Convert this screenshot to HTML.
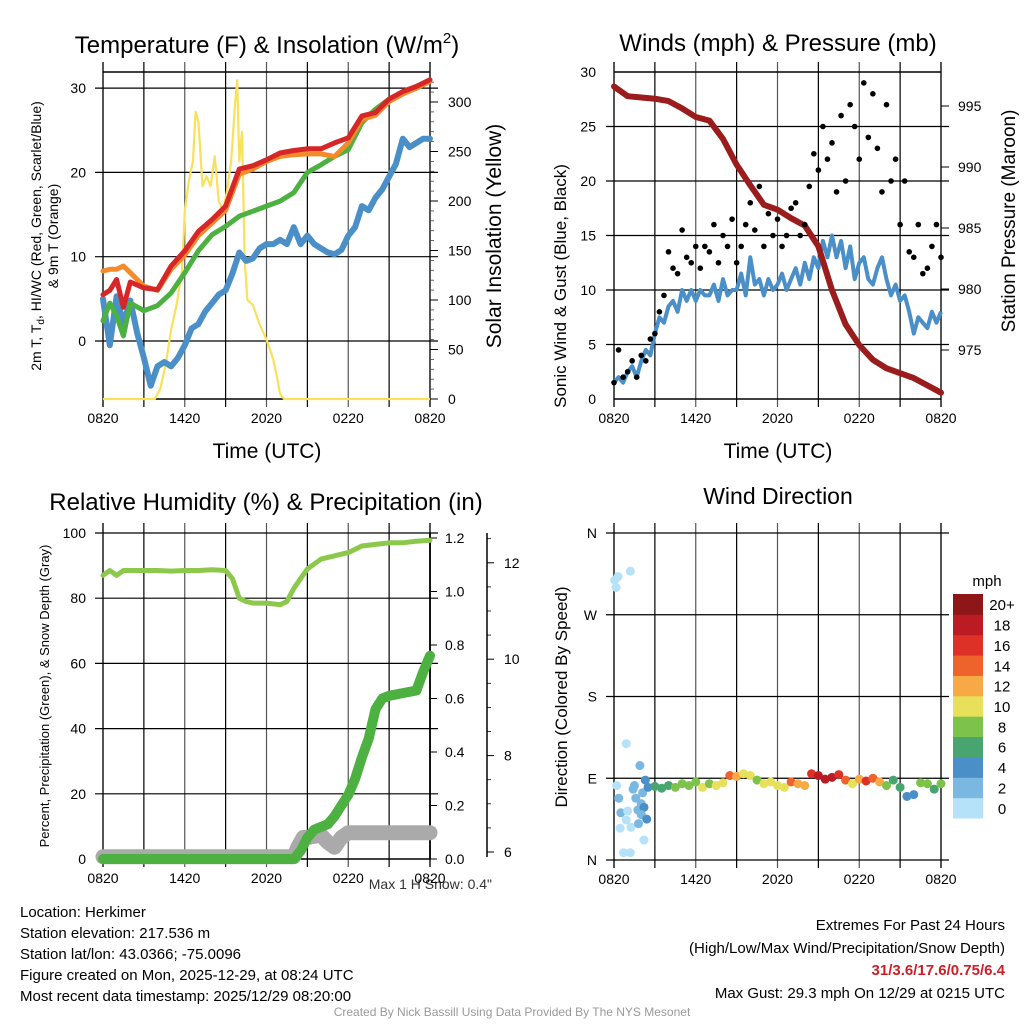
<!DOCTYPE html>
<html><head><meta charset="utf-8">
<style>
html,body{margin:0;padding:0;background:#fff;}
svg{display:block;font-family:"Liberation Sans",Arial,sans-serif;}
</style></head>
<body>
<svg id="s" width="1024" height="1024" viewBox="0 0 1024 1024" xmlns="http://www.w3.org/2000/svg">
<rect width="1024" height="1024" fill="#fff"/>
<g id="static" fill="#000">
<text x="267" y="53" font-size="24" text-anchor="middle">Temperature (F) &amp; Insolation (W/m<tspan font-size="15" dy="-10">2</tspan><tspan dy="10">)</tspan></text>
<text x="778" y="51" font-size="24" text-anchor="middle">Winds (mph) &amp; Pressure (mb)</text>
<text x="266" y="510" font-size="24" text-anchor="middle">Relative Humidity (%) &amp; Precipitation (in)</text>
<text x="778" y="504" font-size="23" text-anchor="middle">Wind Direction</text>
<text x="267" y="458" font-size="21" text-anchor="middle">Time (UTC)</text>
<text x="778" y="458" font-size="21" text-anchor="middle">Time (UTC)</text>
<text transform="translate(41,236) rotate(-90)" font-size="14" text-anchor="middle">2m T, T<tspan font-size="10" dy="3">d</tspan><tspan dy="-3">, HI/WC (Red, Green, Scarlet/Blue)</tspan></text>
<text transform="translate(58,236) rotate(-90)" font-size="14" text-anchor="middle">&amp; 9m T (Orange)</text>
<text transform="translate(501,236) rotate(-90)" font-size="21" text-anchor="middle">Solar Insolation (Yellow)</text>
<text transform="translate(566,286) rotate(-90)" font-size="17" text-anchor="middle">Sonic Wind &amp; Gust (Blue, Black)</text>
<text transform="translate(1015,221) rotate(-90)" font-size="19" text-anchor="middle">Station Pressure (Maroon)</text>
<text transform="translate(49,696) rotate(-90)" font-size="13" text-anchor="middle">Percent, Precipitation (Green), &amp; Snow Depth (Gray)</text>
<text transform="translate(567,697) rotate(-90)" font-size="17" text-anchor="middle">Direction (Colored By Speed)</text>
<text x="492" y="889" font-size="14" fill="#333" text-anchor="end">Max 1 H Snow: 0.4"</text>
<g font-size="15">
<text x="20" y="917">Location: Herkimer</text>
<text x="20" y="938">Station elevation: 217.536 m</text>
<text x="20" y="959">Station lat/lon: 43.0366; -75.0096</text>
<text x="20" y="980">Figure created on Mon, 2025-12-29, at 08:24 UTC</text>
<text x="20" y="1001">Most recent data timestamp: 2025/12/29 08:20:00</text>
</g>
<g font-size="15" text-anchor="end">
<text x="1005" y="930">Extremes For Past 24 Hours</text>
<text x="1005" y="953">(High/Low/Max Wind/Precipitation/Snow Depth)</text>
<text x="1005" y="975" fill="#cc1f25" font-weight="bold">31/3.6/17.6/0.75/6.4</text>
<text x="1005" y="998">Max Gust: 29.3 mph On 12/29 at 0215 UTC</text>
</g>
<text x="512" y="1016" font-size="12" fill="#999" text-anchor="middle">Created By Nick Bassill Using Data Provided By The NYS Mesonet</text>
<text x="987" y="586" font-size="15" text-anchor="middle">mph</text>
</g>
<g id="dyn"></g>
</svg>
<script>
// ---------- DATA ----------
const timeTickLabels = ["0820","1420","2020","0220","0820"];
const tempHours = [0,0.5,1,1.5,2,3,4,5,6,7,8,9,10,11,12,13,14,15,16,17,18,19,20,21,22,23,24];
const tempRed = [5.5,6,7.3,4,7,6.3,6.1,8.9,10.7,13,14.4,16,20.4,20.8,21.5,22.3,22.6,22.8,22.8,23.5,24.1,26.7,27.1,28.7,29.6,30.2,31];
const tempOrange = [8.3,8.5,8.5,8.9,8.1,6.5,6,8.5,10.2,12.5,14,15.5,19.8,20.4,21.3,21.9,22.1,22.2,22.2,21.9,23.5,26.3,26.8,28.4,29.3,30,30.8];
const dewGreen = [2.4,4.5,3,0.6,4.5,3.6,4.2,5.7,8.1,10.7,12.6,13.6,14.8,15.4,16,16.6,17.6,20,20.9,21.9,22.7,25.9,27.5,28.7,29.4,30,30.8];
const wcHours = [0,0.5,1,1.5,2,2.5,3,3.5,4,4.5,5,5.5,6,6.5,7,7.5,8,8.5,9,9.5,10,10.5,11,11.5,12,12.5,13,13.5,14,14.5,15,15.5,16,16.5,17,17.5,18,18.5,19,19.5,20,20.5,21,21.5,22,22.5,23,23.5,24];
const wcBlue = [5,-0.5,5.3,2,4.8,1,-2,-5.3,-3,-2.5,-3,-2,-0.5,1.5,2,3.5,4.5,5.5,6,8,10.5,9.5,9.8,11,11.5,11.5,12,11.5,13.5,11.5,12.5,11.5,11,10.5,10.3,10.8,12.5,13.5,16,15.5,17,18,19.5,21,24,23,23.5,24,24];
const solarHours = [0,3.8,4.2,4.6,5,5.4,5.8,6.0,6.3,6.6,6.8,7.0,7.3,7.6,7.9,8.2,8.5,8.8,9.1,9.4,9.7,9.85,10.0,10.2,10.4,10.6,11,11.5,12,12.5,12.8,13,13.3,24];
const solarVals = [0,0,10,35,70,95,130,190,220,240,290,280,215,225,215,245,200,190,210,240,300,322,240,270,140,100,95,75,60,40,20,5,0,0];
const tempTicks = [0,10,20,30];
const solarTicks = [0,50,100,150,200,250,300];

const pressHours = [0,1,2,3,4,5,6,7,8,9,10,11,12,13,14,15,16,17,18,19,20,21,22,23,24];
const pressVals = [996.6,995.8,995.7,995.6,995.4,994.8,994.1,993.8,992.3,990.2,988.5,986.9,986.5,985.8,985.2,983.5,979.9,977.1,975.4,974.2,973.5,973.1,972.7,972.1,971.5];
const windSpeed = [1.5,2,1.5,2.5,3,2,3.5,4.5,4,6,7.5,7,8.5,9,8,10,9,10,9,10,9.5,9.5,10.5,9,11,9.5,10,10,11.5,9.5,13,10.5,11,9.5,11,10,10.5,11.5,10,11,12,10.5,12.5,11,13,12,14.5,13,15,13,14.5,12,14,11,12.5,13,11,10.5,12,13,11,9.5,10.5,9,9.5,8,6,7.5,7,6.5,8,7,8];
const windGust = [1.5,4.5,2,2.5,3.5,2,4,3.5,5.5,6,8,9.5,13.5,12,11.5,15.5,13,12.5,14,12,14,13.5,16,12.5,15,14,16.5,12.5,14,16,18,15.5,19.5,14,17,15,16.5,14,15,17.5,18,15,16,19.5,22.5,21,25,22,23.5,19,26,20,27,25,22,29,24,28,23,19,27,20,22,16,20,13.5,13,16,11.5,12,14,16,13];
const windTicks = [0,5,10,15,20,25,30];
const pressTicks = [975,980,985,990,995];

const rhHours = [0,0.5,1,1.5,2,3,4,5,6,7,8,9,9.5,10,10.5,11,12,13,13.5,14,14.5,15,16,17,18,19,20,21,22,23,24];
const rhVals = [87,88.5,87,88.5,88.5,88.5,88.5,88.3,88.5,88.5,88.7,88.5,86,80,79,78.5,78.5,78,79,83,86,89,92,93,94,96,96.5,97,97,97.5,97.8];
const precipHours = [0,14,14.5,15,15.5,16,16.5,17,17.5,18,18.5,19,19.5,20,20.5,21,22,23,23.5,24];
const precipVals = [0,0,0.03,0.08,0.11,0.12,0.13,0.16,0.2,0.24,0.3,0.38,0.45,0.56,0.6,0.61,0.62,0.63,0.7,0.76];
const snowHours = [0,14,14.3,14.7,15,16,16.5,17,17.5,18,24];
const snowVals = [5.9,5.9,6.1,6.3,6.3,6.35,6.2,6.1,6.3,6.4,6.4];
const rhTicks = [0,20,40,60,80,100];
const precipTicks = [0,0.2,0.4,0.6,0.8,1.0,1.2];
const snowTicks = [6,8,10,12];

const dirHours = [0.05,0.15,0.3,1.2,0.9,1.9,0.2,0.35,0.5,0.45,0.7,1.2,1.25,2.2,1.5,1.6,1.75,2.0,2.2,2.3,2.1,1.4,0.9,1.0,2.0,2.4,1.8,
 2.5,3,3.5,4,4.5,5,5.5,6,6.5,7,7.5,8,8.5,9,9.5,10,10.5,11,11.5,12,12.5,13,13.5,14,14.5,15,15.5,16,16.5,17,17.5,18,18.5,19,19.5,20,20.5,21,21.5,22,22.5,23,23.5,24];
const dirDegs = [308,300,312,318,128,104,82,68,52,35,8,8,36,22,82,68,55,62,58,88,74,78,44,54,50,45,40,
 80,81,79,82,80,84,82,86,80,84,82,85,93,92,95,93,88,84,86,82,80,86,84,82,95,93,89,91,94,88,84,89,87,90,86,82,88,80,70,72,85,84,78,84];
const dirSpeeds = [0,0,0,0,0,2,0,2,2,0,0,0,0,0,2,2,2,2,3,3,2,2,0,0,2,3,2,
 4,5,6,6,7,8,8,7,9,8,10,10,14,11,10,9,7,10,9,10,10,13,12,12,15,17,18,18,15,14,10,12,16,13,11,8,6,6,4,4,7,8,6,7];
const dirTickLabels = ["N","E","S","W","N"];
const speedLabels = ["0","2","4","6","8","10","12","14","16","18","20+"];
const speedColors = ["#b5e2f8","#7ab8e2","#4a8fc7","#48a56f","#7dc24b","#e8e05a","#f6a945","#ee622c","#dd3127","#bb1c24","#8e1518"];

// ---------- HELPERS ----------
const NS = "http://www.w3.org/2000/svg";
const root = document.getElementById("dyn");
function mk(tag, attrs, parent){
  const e = document.createElementNS(NS, tag);
  for (const k in attrs) e.setAttribute(k, attrs[k]);
  (parent||root).appendChild(e);
  return e;
}
function txt(x,y,s,size,anchor,parent){
  const t = mk("text",{x:x,y:y,"font-size":size,"text-anchor":anchor||"middle"},parent);
  t.textContent = s;
  return t;
}
function pathD(xs, ys, fx, fy){
  let d = "";
  for (let i=0;i<xs.length;i++) d += (i?"L":"M") + fx(xs[i]).toFixed(1) + "," + fy(ys[i]).toFixed(1);
  return d;
}
function panel(x0, x1, y0, y1, hGridYs, name){
  const g = mk("g",{});
  
  
  for (let i=0;i<=8;i++){
    const x = x0 + (x1-x0)*i/8;
    mk("line",{x1:x,y1:y0-10,x2:x,y2:y1+8,stroke:(i%2? "#000":"#555"),"stroke-width":i==0||i==8?2:1.2},g);
  }
  hGridYs.forEach(y=>mk("line",{x1:x0-8,y1:y,x2:x1+8,y2:y,stroke:"#000","stroke-width":1.2},g));
  for (let i=0;i<5;i++) txt(x0+(x1-x0)*i/4, y1+24, timeTickLabels[i], 14, "middle", g);
  return g;
}

// ---------- PANEL 1 ----------
const p1x = h => 103 + h*(327/24);
const p1y = v => 341 - v*8.43;
const p1s = v => 399 - v*0.99;
{
  const g = panel(103,430,72,399, tempTicks.map(p1y), "temperature-panel");
  mk("line",{x1:103,y1:72,x2:430,y2:72,stroke:"#000","stroke-width":1.5},g);
  mk("line",{x1:103,y1:399,x2:430,y2:399,stroke:"#000","stroke-width":1.5},g);
  tempTicks.forEach(v=>txt(86,p1y(v)+5,String(v),14,"end",g));
  solarTicks.forEach(v=>{ mk("line",{x1:430,y1:p1s(v),x2:438,y2:p1s(v),stroke:"#000"},g); txt(448,p1s(v)+5,String(v),14,"start",g); });
  for (let v=10; v<=320; v+=10) if (v%50) mk("line",{x1:430,y1:p1s(v),x2:434,y2:p1s(v),stroke:"#444","stroke-width":0.8},g);
  const solar = mk("path",{d:pathD(solarHours,solarVals,p1x,p1s),fill:"none",stroke:"#f9e15a","stroke-width":2.2,"stroke-linejoin":"round"});
  
  
  const wc = mk("path",{d:pathD(wcHours,wcBlue,p1x,p1y),fill:"none",stroke:"#4a8fc7","stroke-width":6,"stroke-linejoin":"round","stroke-linecap":"round"});
  
  
  const gr = mk("path",{d:pathD(tempHours,dewGreen,p1x,p1y),fill:"none",stroke:"#4cb140","stroke-width":5,"stroke-linejoin":"round","stroke-linecap":"round"});
  
  
  const or = mk("path",{d:pathD(tempHours,tempOrange,p1x,p1y),fill:"none",stroke:"#f58a2a","stroke-width":5,"stroke-linejoin":"round","stroke-linecap":"round"});
  
  
  const rd = mk("path",{d:pathD(tempHours,tempRed,p1x,p1y),fill:"none",stroke:"#d62728","stroke-width":5,"stroke-linejoin":"round","stroke-linecap":"round"});
  
  
}

// ---------- PANEL 2 ----------
const p2x = h => 614 + h*(327/24);
const p2y = v => 399 - v*10.9;
const p2p = v => 350 - (v-975)*12.2;
{
  const g = panel(614,941,72,399, windTicks.filter(v=>v>0&&v<30).map(p2y), "wind-panel");
  mk("line",{x1:614,y1:72,x2:941,y2:72,stroke:"#000","stroke-width":1.5},g);
  mk("line",{x1:614,y1:399,x2:941,y2:399,stroke:"#000","stroke-width":1.5},g);
  windTicks.forEach(v=>txt(596,p2y(v)+5,String(v),14,"end",g));
  pressTicks.forEach(v=>{ mk("line",{x1:941,y1:p2p(v),x2:949,y2:p2p(v),stroke:"#000"},g); txt(958,p2p(v)+5,String(v),14,"start",g); });
  const wh = windSpeed.map((_,i)=>i/3);
  const ws = mk("path",{d:pathD(wh,windSpeed,p2x,p2y),fill:"none",stroke:"#4a8fc7","stroke-width":4,"stroke-linejoin":"round"});
  
  
  const pr = mk("path",{d:pathD(pressHours,pressVals,p2x,p2p),fill:"none",stroke:"#9b1c1c","stroke-width":6,"stroke-linejoin":"round","stroke-linecap":"round"});
  
  
  windGust.forEach((v,i)=>{
    const c = mk("circle",{cx:p2x(i/3),cy:p2y(v),r:2.8,fill:"#000"});
    
    
  });
}

// ---------- PANEL 3 ----------
const p3x = h => 103 + h*(327/24);
const p3y = v => 859 - v*3.26;
const p3p = v => 859 - v*267.5;
const p3s = v => 852 - (v-6)*48.2;
{
  const g = panel(103,430,533,859, rhTicks.filter(v=>v>0).map(p3y), "humidity-panel");
  mk("line",{x1:103,y1:859,x2:430,y2:859,stroke:"#000","stroke-width":1.5},g);
  rhTicks.forEach(v=>txt(86,p3y(v)+5,String(v),14,"end",g));
  mk("line",{x1:430,y1:533,x2:430,y2:859,stroke:"#000","stroke-width":1.5},g);
  precipTicks.forEach(v=>{ mk("line",{x1:430,y1:p3p(v),x2:437,y2:p3p(v),stroke:"#000"},g); txt(445,p3p(v)+5,v.toFixed(1),14,"start",g); });
  mk("line",{x1:487,y1:533,x2:487,y2:857,stroke:"#000","stroke-width":1.5},g);
  snowTicks.forEach(v=>{ mk("line",{x1:487,y1:p3s(v),x2:494,y2:p3s(v),stroke:"#000"},g); txt(504,p3s(v)+5,String(v),14,"start",g); });
  for (let v=6.5; v<12.6; v+=0.5) if (v%2) mk("line",{x1:487,y1:p3s(v),x2:491,y2:p3s(v),stroke:"#000","stroke-width":0.8},g);
  const sn = mk("path",{d:pathD(snowHours,snowVals,p3x,p3s),fill:"none",stroke:"#aaaaaa","stroke-width":15,"stroke-linejoin":"round","stroke-linecap":"round"});
  
  
  const pc = mk("path",{d:pathD(precipHours,precipVals,p3x,p3p),fill:"none",stroke:"#4cb140","stroke-width":10,"stroke-linejoin":"round","stroke-linecap":"round"});
  
  
  const rh = mk("path",{d:pathD(rhHours,rhVals,p3x,p3y),fill:"none",stroke:"#8cc84b","stroke-width":5,"stroke-linejoin":"round","stroke-linecap":"round"});
  
  
}

// ---------- PANEL 4 ----------
const p4x = h => 614 + h*(327/24);
const p4y = d => 860 - d*(327/360);
{
  const g = panel(614,941,533,860, [0,90,180,270,360].map(p4y), "direction-panel");
  [0,90,180,270,360].forEach((d,i)=>txt(597,p4y(d)+5,dirTickLabels[i],14,"end",g));
  dirHours.forEach((h,i)=>{
    const idx = Math.min(10, Math.round(dirSpeeds[i]/2));
    const c = mk("circle",{cx:p4x(h),cy:p4y(dirDegs[i]),r:4.5,fill:speedColors[idx]});
    
    
  });
  const cb = mk("g",{});
  
  
  const bh = 224/11;
  for (let i=0;i<11;i++){
    const y = 818 - (i+1)*bh;
    mk("rect",{x:953,y:y,width:30,height:bh+0.5,fill:speedColors[i]},cb);
    txt(1002,y+bh/2+6,speedLabels[i],15,"middle",cb);
  }
}
</script>
</body></html>
